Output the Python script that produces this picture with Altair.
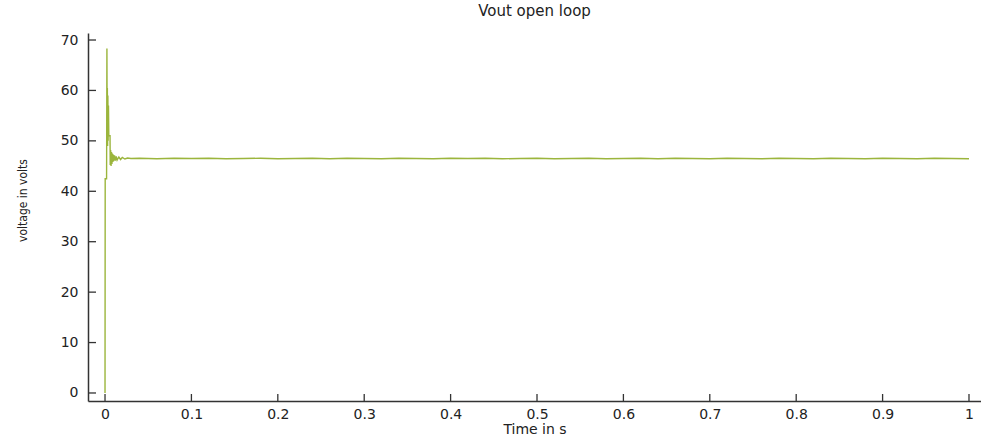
import altair as alt
import pandas as pd

# transient (time in s, voltage in V)
t_transient = [0.0, 0.0002, 0.0018, 0.0022, 0.0025, 0.0027, 0.0030, 0.0033, 0.0036, 0.0040,
               0.0044, 0.0058, 0.0060, 0.0065, 0.0070, 0.0075, 0.0080, 0.0085, 0.0090, 0.0095,
               0.0100, 0.0110, 0.0120, 0.0130, 0.0140, 0.0160, 0.0180, 0.0200, 0.0230, 0.0260,
               0.0300]
v_transient = [0.0, 42.5, 42.5, 68.3, 50.0, 60.5, 49.0, 59.0, 50.0, 57.0,
               51.0, 51.0, 45.2, 48.2, 45.0, 47.8, 45.4, 47.5, 45.8, 47.3,
               46.0, 47.1, 46.1, 46.9, 46.2, 46.8, 46.3, 46.7, 46.4, 46.6,
               46.5]

# steady state, sampled every 0.02 s from 0.04 to 1.0
t_steady = [0.04, 0.06, 0.08, 0.10, 0.12, 0.14, 0.16, 0.18, 0.20, 0.22,
            0.24, 0.26, 0.28, 0.30, 0.32, 0.34, 0.36, 0.38, 0.40, 0.42,
            0.44, 0.46, 0.48, 0.50, 0.52, 0.54, 0.56, 0.58, 0.60, 0.62,
            0.64, 0.66, 0.68, 0.70, 0.72, 0.74, 0.76, 0.78, 0.80, 0.82,
            0.84, 0.86, 0.88, 0.90, 0.92, 0.94, 0.96, 0.98, 1.00]
v_steady = [46.55, 46.45, 46.55, 46.5, 46.55, 46.45, 46.5, 46.55, 46.45, 46.5,
            46.55, 46.45, 46.55, 46.5, 46.45, 46.55, 46.5, 46.45, 46.55, 46.5,
            46.55, 46.45, 46.5, 46.55, 46.45, 46.5, 46.55, 46.45, 46.5, 46.55,
            46.45, 46.55, 46.5, 46.45, 46.55, 46.5, 46.45, 46.55, 46.5, 46.45,
            46.55, 46.5, 46.45, 46.55, 46.5, 46.45, 46.55, 46.5, 46.45]

x_ticks = [0.0, 0.1, 0.2, 0.3, 0.4, 0.5, 0.6, 0.7, 0.8, 0.9, 1.0]
y_ticks = [0, 10, 20, 30, 40, 50, 60, 70]

t_all = t_transient + t_steady
v_all = v_transient + v_steady
df = pd.DataFrame({"t": t_all, "v": v_all, "i": list(range(len(t_all)))})

W, H = 893, 368
FONT = "DejaVu Sans"
xs = alt.Scale(domain=[-0.0197, 1.0139], nice=False, zero=False)
ys = alt.Scale(domain=[-1.59, 71.39], nice=False, zero=False)

X = alt.X("t:Q", scale=xs, title="Time in s",
          axis=alt.Axis(values=x_ticks, tickSize=0, grid=False, domainColor="#333333",
                        domainWidth=1.5, labelFont=FONT, labelFontSize=14,
                        labelColor="#222222", labelPadding=6, titleFont=FONT,
                        titleFontSize=14, titleFontWeight="normal", titleColor="#222222",
                        titlePadding=1,
                        labelExpr="datum.value == 0 ? '0' : datum.value == 1 ? '1' : format(datum.value, '.1f')"))
Y = alt.Y("v:Q", scale=ys, title="voltage in volts",
          axis=alt.Axis(values=y_ticks, tickSize=0, grid=False, domainColor="#333333",
                        domainWidth=1.5, labelFont=FONT, labelFontSize=14,
                        labelColor="#222222", labelPadding=10,
                        titleFont="DejaVu Sans Condensed, Liberation Sans Narrow, Liberation Sans",
                        titleFontSize=12, titleFontWeight="normal", titleColor="#222222",
                        titlePadding=31, titleY=200 - 33))

line = alt.Chart(df).mark_line(color="#9BB53C", strokeWidth=1.4, clip=True).encode(
    x=X, y=Y, order="i:Q")

ydf = pd.DataFrame({"v": y_ticks})
yt = alt.Chart(ydf).mark_rule(color="#333333", strokeWidth=1.3).encode(
    y=Y, x=alt.value(0), x2=alt.value(8))

xdf = pd.DataFrame({"t": x_ticks})
xt = alt.Chart(xdf).mark_rule(color="#333333", strokeWidth=1.3).encode(
    x=X, y=alt.value(H), y2=alt.value(H - 7))

chart = alt.layer(line, yt, xt).properties(
    width=W, height=H,
    view=alt.ViewBackground(stroke="transparent", strokeWidth=0),
    title=alt.TitleParams("Vout open loop", font=FONT, fontSize=15, fontWeight="normal",
                          color="#222222", offset=14, anchor="middle"),
    autosize=alt.AutoSizeParams(type="none"),
    padding={"left": 88, "top": 33, "right": 0, "bottom": 38},
).configure_view(stroke="transparent", strokeWidth=0).configure(background="white")

chart.save("out.html", embed_options={"renderer": "svg", "actions": False})
